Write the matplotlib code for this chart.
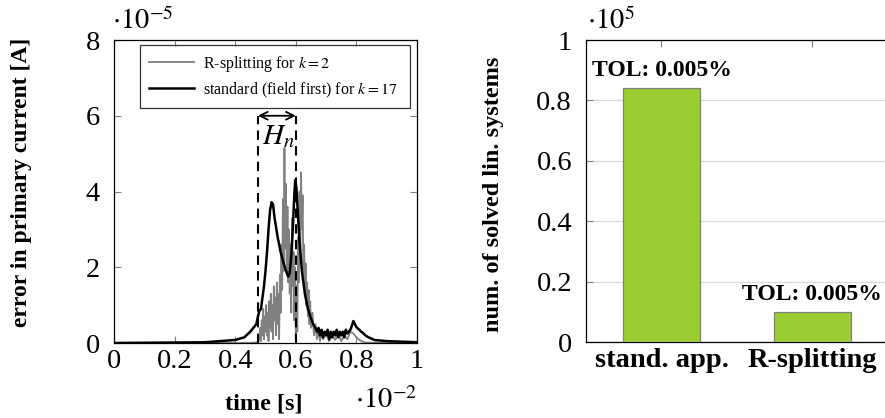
import matplotlib
matplotlib.use("Agg")
import matplotlib.pyplot as plt
import numpy as np

# ---------------- data ----------------
# R-splitting (k=2) error, x in 1e-2 s, y in 1e-5 A
gray_t = [0.0, 0.45, 0.475, 0.48, 0.4825, 0.485, 0.4875, 0.49, 0.4925, 0.495, 0.4975,
          0.5, 0.5025, 0.505, 0.5075, 0.51, 0.5125, 0.515, 0.5175, 0.52, 0.5225, 0.525,
          0.5275, 0.53, 0.5325, 0.535, 0.5375, 0.54, 0.5425, 0.545, 0.5475, 0.55, 0.5525,
          0.555, 0.5575, 0.56, 0.5625, 0.565, 0.5675, 0.57, 0.5725, 0.575, 0.5775, 0.58,
          0.5825, 0.585, 0.5875, 0.59, 0.5925, 0.595, 0.5975, 0.6, 0.6025, 0.605, 0.6075,
          0.61, 0.6125, 0.615, 0.6175, 0.62, 0.6225, 0.625, 0.6275, 0.63, 0.6325, 0.635,
          0.6375, 0.64, 0.6425, 0.645, 0.6475, 0.65, 0.655, 0.66, 0.665, 0.67, 0.675, 0.68,
          0.685, 0.69, 0.7, 0.71, 0.72, 0.73, 0.74, 0.75, 0.76, 0.77, 0.78, 0.79, 0.8, 0.81,
          0.82, 0.83, 1.0]
gray_err = [0.0, 0.0, 0.02, 0.1, 0.4, 0.05, 0.6, 0.2, 0.9, 0.1, 0.7,
            0.3, 1.0, 0.2, 0.8, 0.05, 1.1, 0.4, 1.3, 0.3, 1.0, 0.1,
            1.5, 0.6, 1.2, 0.2, 1.6, 0.5, 1.3, 0.1, 1.8, 0.8, 2.6,
            1.4, 3.8, 1.9, 5.15, 2.5, 4.2, 2.0, 3.6, 1.6, 3.0, 1.3,
            2.6, 0.8, 3.3, 1.5, 2.4, 0.6, 2.0, 0.1, 1.5, 0.3, 2.8,
            1.6, 4.0, 2.2, 4.5, 3.0, 3.9, 1.8, 2.6, 1.3, 2.1, 1.0,
            1.6, 0.7, 1.4, 0.5, 1.1, 0.4, 0.8, 0.2, 0.5, 0.1, 0.35, 0.05,
            0.3, 0.1, 0.25, 0.05, 0.2, 0.08, 0.25, 0.05, 0.2, 0.1, 0.3, 0.25, 0.15, 0.08,
            0.04, 0.01, 0.0]

# standard (field first, k=17) error
std_t = [0.0, 0.3, 0.4, 0.43, 0.45, 0.47, 0.475, 0.48, 0.485, 0.49, 0.495, 0.5, 0.505,
         0.51, 0.515, 0.52, 0.525, 0.53, 0.54, 0.55, 0.56, 0.57, 0.575, 0.58, 0.585,
         0.59, 0.595, 0.598, 0.602, 0.607, 0.612, 0.62, 0.63, 0.64, 0.65, 0.66, 0.665,
         0.67, 0.675, 0.68, 0.685, 0.69, 0.695, 0.7, 0.705, 0.71, 0.715, 0.72, 0.725,
         0.73, 0.735, 0.74, 0.745, 0.75, 0.755, 0.76, 0.765, 0.77, 0.775, 0.78, 0.785,
         0.79, 0.795, 0.8, 0.805, 0.81, 0.815, 0.82, 0.83, 0.84, 0.86, 0.9, 1.0]
std_err = [0.0, 0.02, 0.08, 0.15, 0.3, 0.5, 0.7, 0.85, 0.9, 1.2, 1.5, 1.9, 2.4,
           3.0, 3.5, 3.72, 3.65, 3.3, 2.8, 2.4, 2.1, 1.85, 1.75, 1.85, 2.3,
           3.0, 3.9, 4.3, 4.1, 3.4, 2.7, 1.9, 1.3, 0.9, 0.65, 0.45, 0.4,
           0.3, 0.4, 0.2, 0.35, 0.15, 0.3, 0.2, 0.35, 0.1, 0.3, 0.15, 0.3,
           0.2, 0.35, 0.15, 0.3, 0.2, 0.3, 0.15, 0.35, 0.25, 0.3, 0.35, 0.45,
           0.58, 0.5, 0.42, 0.38, 0.35, 0.3, 0.28, 0.2, 0.15, 0.08, 0.05, 0.02]

h_start = 0.475
h_end = 0.6
h_top = 6.0

bar_labels = ["stand. app.", "R-splitting"]
bar_values = [0.84, 0.098]   # x 1e5
bar_notes = ["TOL: 0.005%", "TOL: 0.005%"]

# ---------------- style ----------------
plt.rcParams['font.family'] = ['Liberation Serif', 'DejaVu Serif']
plt.rcParams['mathtext.fontset'] = 'stix'

TICK_FS = 20.5
LABEL_FS = 17.5

fig = plt.figure(figsize=(8.85, 4.18), dpi=100)

# ---------------- left panel ----------------
ax = fig.add_axes([0.1288, 0.1794, 0.3424, 0.7249])
ax.plot(gray_t, gray_err, color='#808080', lw=1.3, label=r'R-splitting for $k=2$', zorder=2)
ax.plot(std_t, std_err, color='black', lw=1.8, label=r'standard (field first) for $k=17$', zorder=3)
for xv in (h_start, h_end):
    ax.plot([xv, xv], [0, h_top], color='black', lw=1.5, ls=(0, (4.5, 3)), zorder=4)
ax.annotate('', xy=(h_start, h_top), xytext=(h_end, h_top),
            arrowprops=dict(arrowstyle='<->', color='black', lw=1.3, shrinkA=0, shrinkB=0,
                            mutation_scale=14))
ax.text((h_start + h_end) / 2 + 0.005, 5.45, r'$H_n$', fontsize=21, ha='center', va='center')

ax.set_xlim(0, 1)
ax.set_ylim(0, 8)
ax.set_xticks([0, 0.2, 0.4, 0.6, 0.8, 1])
ax.set_xticklabels(['0', '0.2', '0.4', '0.6', '0.8', '1'])
ax.set_yticks([0, 2, 4, 6, 8])
ax.set_yticklabels(['0', '2', '4', '6', '8'])
ax.tick_params(direction='in', top=True, right=True, labelsize=TICK_FS, color='#808080',
               length=5, width=0.8)
ax.tick_params(axis='y', pad=10)
ax.tick_params(axis='x', pad=4)
for s in ax.spines.values():
    s.set_linewidth(0.9)
ax.set_xlabel('time [s]', fontsize=LABEL_FS, fontweight='bold')
ax.xaxis.set_label_coords(0.495, -0.165)
ax.set_ylabel('error in primary current [A]', fontsize=17, fontweight='bold')
ax.yaxis.set_label_coords(-0.27, 0.53)
ax.text(-0.005, 1.015, r'$\cdot 10^{-5}$', transform=ax.transAxes, fontsize=TICK_FS,
        ha='left', va='bottom')
ax.text(1.0, -0.145, r'$\cdot 10^{-2}$', transform=ax.transAxes, fontsize=TICK_FS,
        ha='right', va='top')
leg = ax.legend(loc='upper left', bbox_to_anchor=(0.086, 0.983, 0.891, 0.0), mode='expand',
                borderaxespad=0, fontsize=11.5, frameon=True, fancybox=False,
                edgecolor='black', handlelength=2.8, borderpad=0.55, labelspacing=0.4,
                handletextpad=0.6)
leg.get_frame().set_linewidth(0.9)

# ---------------- right panel ----------------
bx = fig.add_axes([0.6621, 0.1818, 0.3412, 0.7225])
xpos = np.arange(len(bar_labels))
bars = bx.bar(xpos, bar_values, width=0.51, color='#9ACD32', edgecolor='#808080',
              linewidth=0.9, zorder=3)
for xi, v, note in zip(xpos, bar_values, bar_notes):
    bx.text(xi, v + 0.025, note, ha='center', va='bottom', fontsize=17, fontweight='bold')
bx.set_xlim(-0.5, 1.5)
bx.set_ylim(0, 1)
bx.set_xticks(xpos)
bx.set_xticklabels(bar_labels, fontsize=TICK_FS, fontweight='bold')
bx.set_yticks([0, 0.2, 0.4, 0.6, 0.8, 1])
bx.set_yticklabels(['0', '0.2', '0.4', '0.6', '0.8', '1'])
bx.tick_params(axis='y', direction='in', labelsize=TICK_FS, length=5, color='#808080', pad=10)
bx.tick_params(axis='x', direction='in', top=True, bottom=False, length=5, color='#808080', pad=4)
bx.yaxis.grid(True, color='#d9d9d9', lw=0.9, zorder=0)
bx.set_axisbelow(True)
for s in bx.spines.values():
    s.set_linewidth(0.9)
bx.set_ylabel('num. of solved lin. systems', fontsize=LABEL_FS, fontweight='bold')
bx.yaxis.set_label_coords(-0.27, 0.49)
bx.text(0.005, 1.015, r'$\cdot 10^{5}$', transform=bx.transAxes, fontsize=TICK_FS,
        ha='left', va='bottom')

fig.savefig('out.png', dpi=100)
